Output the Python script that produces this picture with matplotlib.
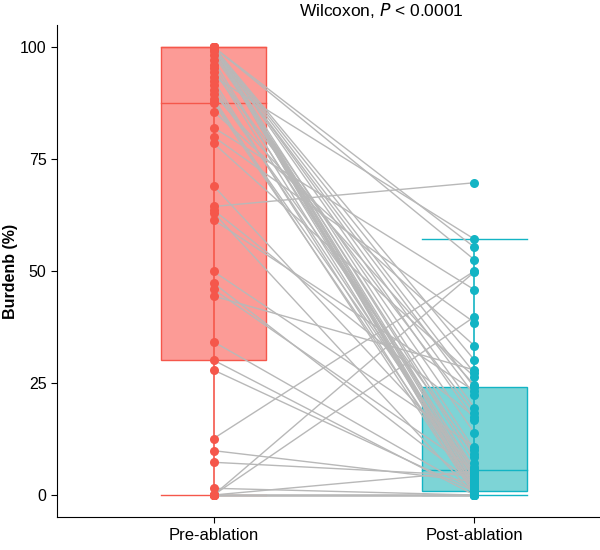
import matplotlib
matplotlib.use("Agg")
import matplotlib.pyplot as plt
import numpy as np

plt.rcParams['font.family'] = ['Liberation Sans', 'DejaVu Sans']

categories = ["Pre-ablation", "Post-ablation"]

pre = [100, 100, 100, 100, 100, 100, 100, 100, 100, 100, 100, 100, 100, 100, 100, 100,
       99.5, 99.0, 98.2, 97.0, 96.0, 95.3, 94.5, 93.4, 92.5, 91.5, 90.5, 89.5, 88.5, 87.8,
       87.5, 85.6, 82.0, 80.0, 78.5, 69.0, 64.4, 63.6, 63.0, 61.4, 49.9, 47.3, 45.9, 44.4,
       34.2, 30.1, 27.9, 12.6, 9.9, 7.3, 1.5, 0, 0, 0, 0, 0, 0, 0, 0, 0, 0]
post = [0, 0.5, 2.0, 3.3, 5.0, 7.1, 10.0, 16.7, 19.4, 24.0, 27.2, 30.1, 4.0, 1.2, 52.5, 55.3,
        22.3, 8.5, 13.8, 2.6, 5.8, 1.5, 18.3, 57.1, 0, 3.7, 9.2, 24.5, 0, 4.7,
        1.8, 33.3, 45.8, 38.5, 26.4, 6.3, 69.7, 17.5, 0, 23.2, 10.8, 2.3, 5.5, 27.9,
        1.0, 0, 0.8, 50.0, 3.0, 4.3, 0, 49.8, 0, 0, 0, 0, 0, 5.3, 0, 0, 39.8]

title_text = "Wilcoxon, $\\it{P}$ < 0.0001"
ylabel = "Burdenb (%)"
yticks = [0, 25, 50, 75, 100]

point_colors = ["#F5574B", "#13B4C4"]
fill_colors = ["#FC9B96", "#7DD4D6"]

fig = plt.figure(figsize=(6, 5.5), dpi=100)
ax = fig.add_axes([57/600, (550-517.4)/550, 543/600, (517.4-24.6)/550])

data = [np.array(pre), np.array(post)]
positions = [1, 2]
bw = 0.4
for i, (d, pos) in enumerate(zip(data, positions)):
    q1, med, q3 = np.percentile(d, [25, 50, 75])
    iqr = q3 - q1
    lo = d[d >= q1 - 1.5*iqr].min()
    hi = d[d <= q3 + 1.5*iqr].max()
    ec = point_colors[i]
    ax.add_patch(plt.Rectangle((pos - bw/2, q1), bw, q3 - q1, facecolor=fill_colors[i],
                               edgecolor=ec, lw=1.0, zorder=1))
    ax.plot([pos - bw/2, pos + bw/2], [med, med], color=ec, lw=1.0, zorder=1.1)
    ax.plot([pos, pos], [lo, hi], color=ec, lw=1.2, zorder=1.1)
    for v in (lo, hi):
        ax.plot([pos - bw/2, pos + bw/2], [v, v], color=ec, lw=1.0, zorder=1.1)

for a, b in zip(pre, post):
    ax.plot([1, 2], [a, b], color="#B8B8B8", lw=1.0, zorder=2)

for i, (d, pos) in enumerate(zip(data, positions)):
    ax.plot(np.full(len(d), pos), d, 'o', color=point_colors[i], ms=6.5, mec='none', zorder=3)

ax.set_xlim(0.4, 2.481)
ax.set_ylim(-5, 105)
ax.set_xticks(positions)
ax.set_xticklabels(categories, fontsize=12)
ax.set_yticks(yticks)
ax.set_yticklabels([str(t) for t in yticks], fontsize=11.5)
ax.set_ylabel(ylabel, fontsize=11.5, fontweight='bold')
ax.yaxis.set_label_coords(-0.072, 0.5)
ax.spines['top'].set_visible(False)
ax.spines['right'].set_visible(False)
ax.tick_params(direction='out', length=4, width=0.8, colors='black')
fig.text(381/600, 1 - 11/550, title_text, ha='center', va='center', fontsize=12.5)

fig.savefig("out.png", dpi=100)
